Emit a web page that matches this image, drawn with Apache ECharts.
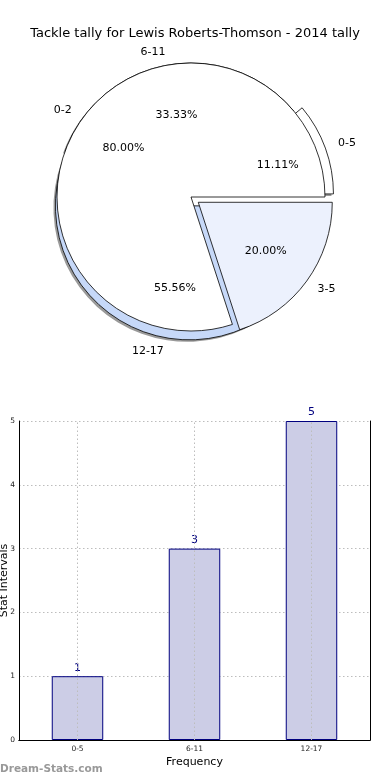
<!DOCTYPE html>
<html>
<head>
<meta charset="utf-8">
<script src="https://cdn.jsdelivr.net/npm/echarts@6/dist/echarts.min.js"></script>
<style>
html,body{margin:0;padding:0;background:#fff;}
#chart{width:390px;height:780px;}
</style>
</head>
<body>
<div id="chart"></div>
<script>
// ---- data ----
var outerNames = ['0-5', '6-11', '12-17'];
var outerValues = [1, 3, 5];
var outerExploded = [true, false, true];
var innerNames = ['0-2', '3-5'];
var innerValues = [80, 20];
var innerExploded = [false, true];
var barCategories = ['0-5', '6-11', '12-17'];
var barValues = [1, 3, 5];
var yTicks = [0, 1, 2, 3, 4, 5];

// ---- styles ----
var outerColors = ['#ffffff', '#ffffff', '#c6d8f8'];
var innerColors = ['#ffffff', '#ecf1fd'];
var FONT = 'DejaVu Sans';
var CX = 191, CY = 197, R = 134, OFF = 9;
var gridLine = { color: '#bdbdbd', type: [1.5, 2.5], width: 1 };

function items(names, values, exploded, colors) {
  return names.map(function (n, i) {
    return { name: n, value: values[i], selected: exploded[i],
      itemStyle: colors ? { color: colors[i] } : undefined };
  });
}
function pctFmt(p) { return p.percent.toFixed(2) + '%'; }

var pieCommon = {
  type: 'pie', center: [CX, CY], startAngle: 0, clockwise: false,
  selectedMode: 'multiple', selectedOffset: OFF, avoidLabelOverlap: false,
  animation: false, emphasis: { disabled: true }, minAngle: 0
};
function mk(extra) { return Object.assign({}, pieCommon, extra); }

var nameLabel = {
  show: true, position: 'outside', formatter: '{b}', color: '#000',
  fontFamily: FONT, fontSize: 11, distanceToLabelLine: 0
};
var nameLine = { show: false, length: R * 0.1, length2: 0 };
var pctLabel = { show: true, position: 'inside', formatter: pctFmt, color: '#000', fontFamily: FONT, fontSize: 11 };

var chart = echarts.init(document.getElementById('chart'), null, { renderer: 'canvas' });
chart.setOption({
  backgroundColor: '#fff',
  animation: false,
  title: {
    text: 'Tackle tally for Lewis Roberts-Thomson - 2014 tally',
    left: 'center', top: 22,
    textStyle: { fontFamily: FONT, fontSize: 13, fontWeight: 'normal', color: '#000' }
  },
  graphic: [{
    type: 'text', left: 0, top: 764, silent: true,
    style: { text: 'Dream-Stats.com', fontFamily: FONT, fontSize: 10.5, fontWeight: 'bold', fill: '#999' }
  }],
  grid: { left: 19, right: 20, top: 421, bottom: 40, containLabel: false, outerBoundsMode: 'none' },
  xAxis: [{
    type: 'category', data: barCategories, position: 'bottom',
    axisLine: { show: true, lineStyle: { color: '#000', width: 1 } },
    axisTick: { show: false },
    axisLabel: { fontFamily: FONT, fontSize: 7.5, color: '#222', margin: 5 },
    splitLine: { show: false },
    name: 'Frequency', nameLocation: 'middle', nameGap: 17, nameMoveOverlap: false,
    nameTextStyle: { fontFamily: FONT, fontSize: 11, color: '#000' }
  }, {
    type: 'category', data: barCategories, position: 'top',
    axisLine: { show: true, lineStyle: { color: '#000', width: 1 } },
    axisTick: { show: false }, axisLabel: { show: false }, splitLine: { show: false }
  }],
  yAxis: [{
    type: 'value', min: yTicks[0], max: yTicks[yTicks.length - 1], interval: 1,
    axisLine: { show: true, lineStyle: { color: '#000', width: 1 } },
    axisTick: { show: false },
    axisLabel: { fontFamily: FONT, fontSize: 7.5, color: '#222', margin: 4 },
    splitLine: { show: true, lineStyle: gridLine },
    name: 'Stat Intervals', nameLocation: 'middle', nameGap: 9, nameRotate: 90, nameMoveOverlap: false,
    nameTextStyle: { fontFamily: FONT, fontSize: 11, color: '#000' }
  }, {
    type: 'value', min: yTicks[0], max: yTicks[yTicks.length - 1], interval: 1, position: 'right',
    axisLine: { show: true, lineStyle: { color: '#000', width: 1 } },
    axisTick: { show: false }, axisLabel: { show: false }, splitLine: { show: false }
  }],
  series: [
    // shadow
    mk({ radius: [0, R], center: [CX - 2, CY + 2], silent: true, z: 1,
      data: items(outerNames, outerValues, outerExploded),
      itemStyle: { color: '#9a9a9a', borderWidth: 0 },
      label: { show: false }, labelLine: { show: false } }),
    // outer pie
    mk({ radius: [0, R], z: 2,
      data: items(outerNames, outerValues, outerExploded, outerColors),
      itemStyle: { borderColor: '#000', borderWidth: 0.8 },
      label: nameLabel, labelLine: nameLine }),
    // inner pie
    mk({ radius: [0, R], z: 3,
      data: items(innerNames, innerValues, innerExploded, innerColors),
      itemStyle: { borderColor: '#000', borderWidth: 0.8 },
      label: nameLabel, labelLine: nameLine }),
    // percent labels (outer)
    mk({ radius: [0, R * 1.2], silent: true, z: 4,
      data: items(outerNames, outerValues, outerExploded),
      itemStyle: { color: 'rgba(0,0,0,0)', borderWidth: 0 },
      label: pctLabel, labelLine: { show: false } }),
    // percent labels (inner)
    mk({ radius: [0, R * 1.2], silent: true, z: 4,
      data: items(innerNames, innerValues, innerExploded),
      itemStyle: { color: 'rgba(0,0,0,0)', borderWidth: 0 },
      label: pctLabel, labelLine: { show: false } }),
    // bars
    {
      type: 'bar', data: barValues, xAxisIndex: 0, yAxisIndex: 0, barWidth: '44%',
      itemStyle: { color: '#cccde6', borderColor: '#00007f', borderWidth: 1 },
      label: { show: true, position: 'top', distance: 3, color: '#00007f', fontFamily: FONT, fontSize: 11 },
      emphasis: { disabled: true }, animation: false,
      markLine: {
        silent: true, symbol: 'none', label: { show: false }, z: 3,
        lineStyle: gridLine, emphasis: { disabled: true },
        data: barCategories.map(function (c) { return { xAxis: c }; })
      }
    }
  ]
});
</script>
</body>
</html>
